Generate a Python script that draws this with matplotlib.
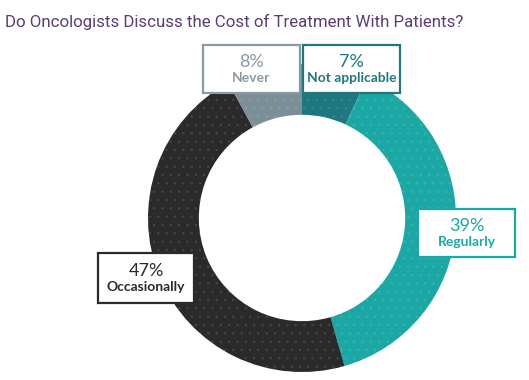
import matplotlib
matplotlib.use("Agg")
import matplotlib.pyplot as plt
from matplotlib.patches import Rectangle

title = "Do Oncologists Discuss the Cost of Treatment With Patients?"
labels = ["Not applicable", "Regularly", "Occasionally", "Never"]
values = [7, 39, 47, 8]
colors = ["#1f7880", "#1ba8a5", "#2a2a2a", "#7b8f99"]
text_colors = ["#1f7880", "#1ba8a5", "#2a2a2a", "#8a9aa2"]

plt.rcParams["hatch.linewidth"] = 0.5

W, H = 529, 380
fig = plt.figure(figsize=(W / 100, H / 100), dpi=100)
fig.patch.set_facecolor("white")

# donut axes, placed in pixels (center 302,218 ; radius 154)
cx, cy, R = 302, 218, 154
ax = fig.add_axes([(cx - R) / W, (H - cy - R) / H, 2 * R / W, 2 * R / H])
wedges, _ = ax.pie(values, colors=colors, startangle=90, counterclock=False,
                   wedgeprops=dict(width=0.33, linewidth=0), radius=1.0)
# faint dotted texture
for w in wedges:
    w.set_hatch("..")
    w.set_edgecolor((1, 1, 1, 0.1))
    w.set_linewidth(0)
ax.set_xlim(-1, 1)
ax.set_ylim(-1, 1)
ax.axis("off")

# overlay axes in pixel units for boxes and title
ov = fig.add_axes([0, 0, 1, 1])
ov.set_xlim(0, W)
ov.set_ylim(H, 0)
ov.axis("off")

ov.text(5, 22, title, color="#5c3d7a", fontsize=12.2,
        family="Roboto", va="center", ha="left")

boxes = {
    "Never": (203, 45, 97, 48),
    "Not applicable": (303, 45, 97, 48),
    "Regularly": (418, 209, 97, 48),
    "Occasionally": (98, 253, 96, 50),
}
for lab, val, tc in zip(labels, values, text_colors):
    x, y, w, h = boxes[lab]
    ov.add_patch(Rectangle((x, y), w, h, facecolor="white", edgecolor=tc,
                           linewidth=1.6, zorder=3))
    ov.text(x + w / 2, y + h * 0.36, f"{val}%", color=tc, fontsize=13,
            family="Lato", weight="normal", ha="center", va="center", zorder=4)
    ov.text(x + w / 2, y + h * 0.68, lab, color=tc, fontsize=10,
            family="Lato", weight="bold", ha="center", va="center", zorder=4)

fig.savefig("out.png", dpi=100)
